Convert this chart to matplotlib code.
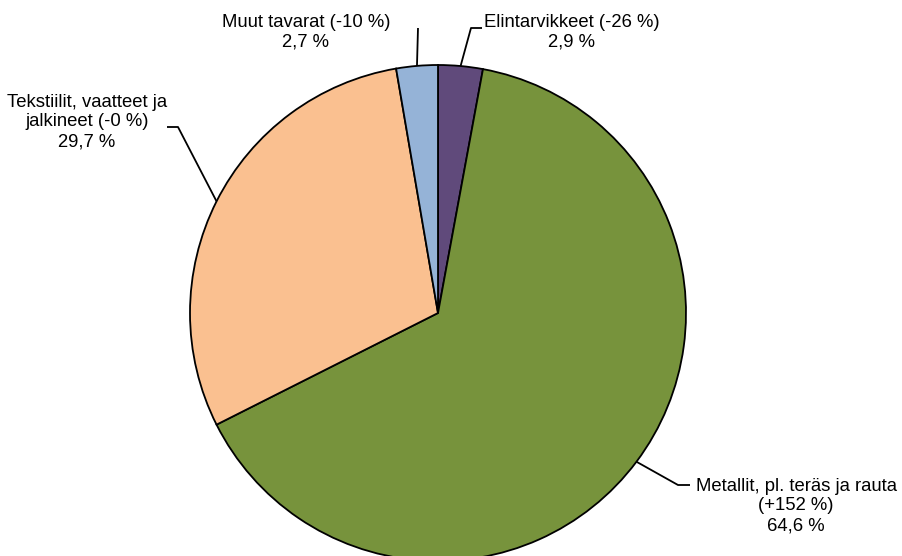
import matplotlib.pyplot as plt
import numpy as np

plt.rcParams['font.family'] = ['Liberation Sans', 'DejaVu Sans']

# Share of imports by product group, % (change in brackets)
labels = ["Elintarvikkeet (-26 %)", "Metallit, pl. teräs ja rauta\n(+152 %)",
          "Tekstiilit, vaatteet ja\njalkineet (-0 %)", "Muut tavarat (-10 %)"]
shares = [2.9, 64.6, 29.7, 2.7]
colors = ["#604A7B", "#77933C", "#FAC090", "#95B3D7"]

W, H = 902, 556
fig = plt.figure(figsize=(W / 100, H / 100), dpi=100)
ax = fig.add_axes([0, 0, 1, 1])

cx, cy, r = 438, H - 313, 248
wedges, _ = ax.pie(shares, colors=colors, startangle=90, counterclock=False,
                   center=(cx, cy), radius=r, frame=True,
                   wedgeprops=dict(edgecolor="black", linewidth=1.3))
ax.set_xlim(0, W)
ax.set_ylim(0, H)
ax.set_aspect("equal")
ax.axis("off")

def fmt(v):
    return f"{v:.1f}".replace(".", ",") + " %"

# label layout: text centre (pixels from top-left), leader path after the anchor
layout = [
    (572, 32, [(471, 28), (482, 28)]),
    (796, 506, [(678, 485), (690, 485)]),
    (87, 122, [(178, 127), (167, 127)]),
    (306, 32, [(418, 28)]),
]

for w, lab, v, (tx, ty, path) in zip(wedges, labels, shares, layout):
    mid = np.deg2rad((w.theta1 + w.theta2) / 2)
    ax0 = cx + r * np.cos(mid)
    ay0 = cy + r * np.sin(mid)
    xs = [ax0] + [p[0] for p in path]
    ys = [ay0] + [H - p[1] for p in path]
    ax.plot(xs, ys, color="black", lw=1.3, solid_capstyle="butt")
    ax.text(tx, H - ty, lab + "\n" + fmt(v), ha="center", va="center",
            fontsize=13.3, color="black", linespacing=1.2)

fig.savefig("out.png", dpi=100)
plt.close(fig)
